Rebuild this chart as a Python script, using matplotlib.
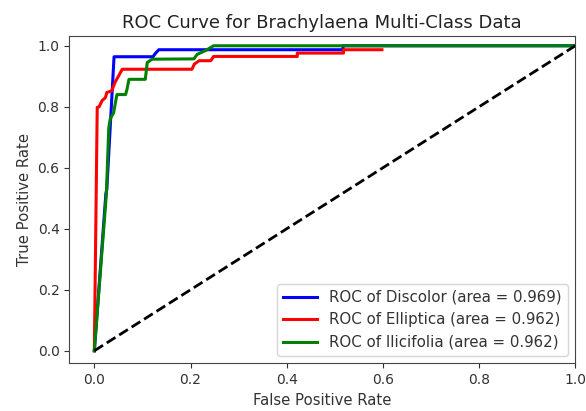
import matplotlib
matplotlib.use('Agg')
from matplotlib import pyplot as plt

# ROC points (fpr, tpr)
discolor_fpr = [0.0, 0.024, 0.026, 0.041, 0.122, 0.127, 0.134, 0.517, 0.517, 1.0]
discolor_tpr = [0.0, 0.515, 0.53, 0.964, 0.964, 0.975, 0.987, 0.987, 1.0, 1.0]

elliptica_fpr = [0.0, 0.006, 0.01, 0.016, 0.023, 0.026, 0.036, 0.043, 0.05, 0.058,
                 0.203, 0.208, 0.218, 0.242, 0.248, 0.422, 0.422, 0.518, 0.518, 0.598]
elliptica_tpr = [0.0, 0.798, 0.80, 0.82, 0.83, 0.847, 0.852, 0.88, 0.90, 0.923,
                 0.923, 0.94, 0.951, 0.951, 0.965, 0.965, 0.976, 0.976, 0.987, 0.987]

ilicifolia_fpr = [0.0, 0.025, 0.03, 0.033, 0.04, 0.047, 0.065, 0.068, 0.072, 0.106,
                  0.11, 0.12, 0.207, 0.214, 0.231, 0.248, 1.0]
ilicifolia_tpr = [0.0, 0.513, 0.73, 0.76, 0.78, 0.84, 0.84, 0.858, 0.89, 0.89,
                  0.945, 0.956, 0.957, 0.972, 0.984, 1.0, 1.0]

class_names = ['Discolor', 'Elliptica', 'Ilicifolia']
class_auc = [0.969, 0.962, 0.962]
colors = ['blue', 'red', 'green']

fig = plt.figure(figsize=(5.86, 4.11), dpi=100)
ax = fig.add_subplot(111)
fig.subplots_adjust(left=0.1183, right=0.9817, top=0.9124, bottom=0.1161)

curves = [(discolor_fpr, discolor_tpr), (elliptica_fpr, elliptica_tpr),
          (ilicifolia_fpr, ilicifolia_tpr)]
for (fpr, tpr), name, auc, c in zip(curves, class_names, class_auc, colors):
    ax.plot(fpr, tpr, color=c, lw=2.2,
            label='ROC of {} (area = {:.3f})'.format(name, auc))

ax.plot([0, 1], [0, 1], 'k--', lw=2)
ax.set_xlim([-0.052, 1.0])
ax.set_ylim([-0.041, 1.032])
ax.tick_params(labelsize=10, colors='#333333')
for sp in ax.spines.values():
    sp.set_edgecolor('#444444')
ax.set_xlabel('False Positive Rate', fontsize=10.7, color='#333333')
ax.set_ylabel('True Positive Rate', fontsize=10.7, color='#333333')
ax.set_title('ROC Curve for Brachylaena Multi-Class Data', fontsize=13, color='#222222')
leg = ax.legend(loc='lower right', fontsize=10.8, handlelength=2.3)
for t in leg.get_texts():
    t.set_color('#333333')

fig.savefig('out.png', dpi=100)
